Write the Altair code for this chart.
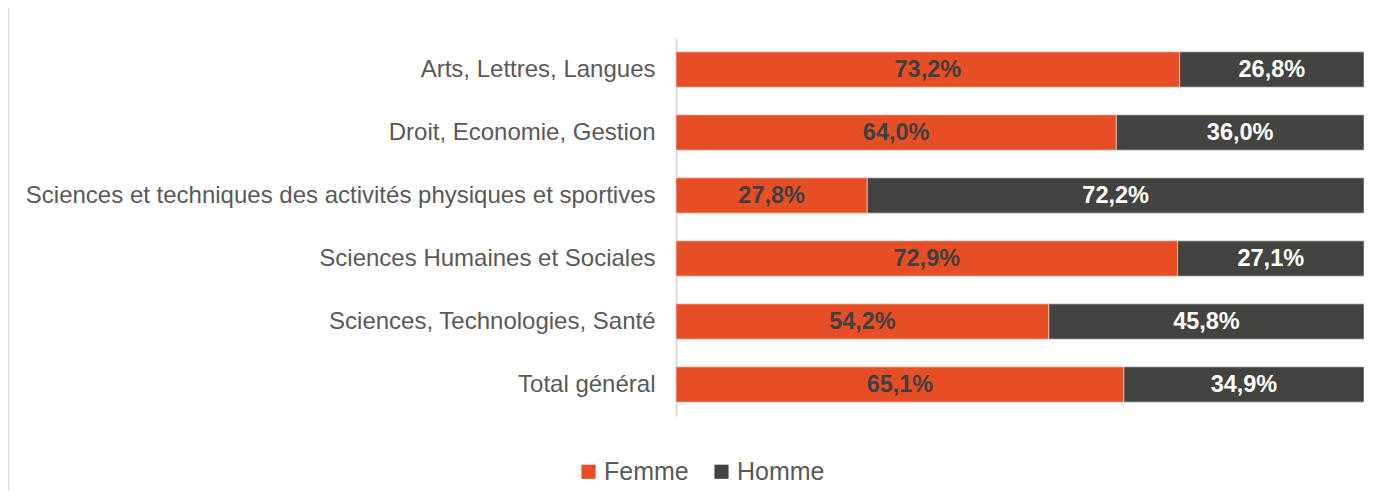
import altair as alt
import pandas as pd

categories = [
    "Arts, Lettres, Langues",
    "Droit, Economie, Gestion",
    "Sciences et techniques des activités physiques et sportives",
    "Sciences Humaines et Sociales",
    "Sciences, Technologies, Santé",
    "Total général",
]
femme = [73.2, 64.0, 27.8, 72.9, 54.2, 65.1]
homme = [26.8, 36.0, 72.2, 27.1, 45.8, 34.9]
series = ["Femme", "Homme"]
colors = ["#E84E25", "#434341"]
title_text = "Répartition selon le genre par grand domaine de formation"

rows = []
for c, f, h in zip(categories, femme, homme):
    rows.append({"cat": c, "genre": "Femme", "val": f, "start": 0.0, "end": f,
                 "mid": f / 2, "label": f"{f:.1f}%".replace(".", ",")})
    rows.append({"cat": c, "genre": "Homme", "val": h, "start": f, "end": f + h,
                 "mid": f + h / 2, "label": f"{h:.1f}%".replace(".", ",")})
df = pd.DataFrame(rows)

FONT = "Liberation Sans"

y_enc = alt.Y("cat:N", sort=categories, title=None,
              scale=alt.Scale(paddingInner=0.44, paddingOuter=0.22),
              axis=alt.Axis(labelFont=FONT, labelFontSize=24, labelColor="#595959",
                            labelPadding=21, ticks=False, domainColor="#D9D9D9",
                            domainWidth=2, labelLimit=700))
x_scale = alt.Scale(domain=[0, 100], nice=False, zero=True)

bars = alt.Chart(df).mark_bar(stroke="white", strokeWidth=0.5).encode(
    y=y_enc,
    x=alt.X("start:Q", scale=x_scale, axis=None),
    x2="end:Q",
    color=alt.Color("genre:N", scale=alt.Scale(domain=series, range=colors),
                    legend=alt.Legend(title=None, orient="none", direction="horizontal",
                                      legendX=-100, legendY=421, symbolType="square",
                                      symbolSize=200, symbolStrokeWidth=0,
                                      labelFont=FONT, labelFontSize=25, labelColor="#595959",
                                      columnPadding=20, labelOffset=3)),
)

labels = alt.Chart(df).mark_text(font=FONT, fontSize=23.5, fontWeight="bold").encode(
    y=alt.Y("cat:N", sort=categories),
    x=alt.X("mid:Q", scale=x_scale),
    text="label:N",
    color=alt.Color("genre:N", scale=alt.Scale(domain=series, range=["#404040", "#FFFFFF"]),
                    legend=None),
)

frame = alt.Chart(pd.DataFrame({"k": [0]})).mark_rule(color="#D9D9D9", strokeWidth=1.5).encode(
    x=alt.value(-667.5), y=alt.value(-40), y2=alt.value(460)
)

title = alt.Chart(pd.DataFrame({"t": [title_text]})).mark_text(
    font=FONT, fontSize=19, fontWeight="bold", color="#595959", align="center", baseline="alphabetic"
).encode(x=alt.value(9), y=alt.value(-36), text="t:N")

chart = alt.layer(frame, title, bars, labels).resolve_scale(color="independent").properties(
    width=688, height=378,
    background="white",
    autosize=alt.AutoSizeParams(type="none"),
    padding={"left": 668, "top": 30, "right": 11, "bottom": 75},
).configure_view(stroke=None, strokeWidth=0)

chart.save("out.html", embed_options={"renderer": "svg", "actions": False})
